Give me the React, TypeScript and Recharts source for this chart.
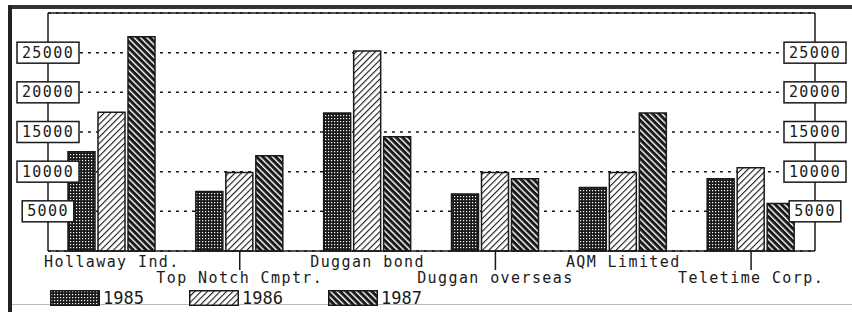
import { BarChart, Bar, XAxis, YAxis, CartesianGrid, ReferenceLine } from 'recharts'

const COMPANIES = ['Hollaway Ind.', 'Top Notch Cmptr.', 'Duggan bond', 'Duggan overseas', 'AQM Limited', 'Teletime Corp.']
const SALES_1985 = [12500, 7500, 17400, 7200, 8000, 9100]
const SALES_1986 = [17500, 9900, 25200, 9900, 9900, 10500]
const SALES_1987 = [27000, 12000, 14400, 9100, 17400, 6000]
const YEARS = ['1985', '1986', '1987']
const Y_TICKS = [5000, 10000, 15000, 20000, 25000]

const FONT = '"DejaVu Sans Mono", "Liberation Mono", monospace'
const INK = '#1a1a1a'
const FILLS = ['url(#dots)', 'url(#fwd)', 'url(#back)']

const PLOT_L = 48
const PLOT_R = 815

const data = COMPANIES.map((name, i) => ({
  name,
  y1985: SALES_1985[i],
  y1986: SALES_1986[i],
  y1987: SALES_1987[i],
}))

function Box({ x, y, label }: { x: number; y: number; label: string }) {
  const w = label.length * 10.4 + 10
  return (
    <g>
      <rect x={x - w / 2} y={y - 10.5} width={w} height={21} fill="white" stroke={INK} strokeWidth={1.5} />
      <text x={x} y={y + 5} textAnchor="middle" fontFamily={FONT} fontSize={15} letterSpacing={1.4} fill={INK}>
        {label}
      </text>
    </g>
  )
}

// boxed value labels centred on both axis lines (same scale left and right)
function YTick(props: any) {
  const { y, payload } = props
  const label = String(payload.value)
  return (
    <g>
      <Box x={PLOT_L} y={y} label={label} />
      <Box x={PLOT_R} y={y} label={label} />
    </g>
  )
}

// staggered category labels, second row gets a drop line
function XTick(props: any) {
  const { x, payload, index } = props
  const y = 251
  const low = index % 2 === 1
  return (
    <g>
      {low && <line x1={x} y1={y} x2={x} y2={y + 19} stroke={INK} strokeWidth={1.5} />}
      <text x={x} y={y + (low ? 32 : 16)} textAnchor="middle" fontFamily={FONT} fontSize={15} letterSpacing={1.4} fill={INK}>
        {payload.value}
      </text>
    </g>
  )
}

function Patterns() {
  return (
    <svg width={0} height={0} style={{ position: 'absolute' }}>
      <defs>
        <pattern id="dots" width={3} height={3} patternUnits="userSpaceOnUse">
          <rect width={3} height={3} fill={INK} />
          <rect x={1} y={1} width={1.2} height={1.2} fill="white" />
        </pattern>
        <pattern id="fwd" width={4.5} height={4.5} patternUnits="userSpaceOnUse" patternTransform="rotate(45)">
          <rect width={4.5} height={4.5} fill="white" />
          <rect width={1.1} height={4.5} fill={INK} />
        </pattern>
        <pattern id="back" width={4.5} height={4.5} patternUnits="userSpaceOnUse" patternTransform="rotate(-45)">
          <rect width={4.5} height={4.5} fill={INK} />
          <rect width={1.4} height={4.5} fill="white" />
        </pattern>
      </defs>
    </svg>
  )
}

export default function App() {
  return (
    <div style={{ position: 'absolute', left: 0, top: 0, width: 852, height: 312, background: 'white', overflow: 'hidden' }}>
      <Patterns />
      {/* scanned page frame */}
      <div style={{ position: 'absolute', left: 8, top: 5, width: 844, height: 4, background: '#333' }} />
      <div style={{ position: 'absolute', left: 8, top: 5, width: 4, height: 307, background: '#222' }} />
      <div style={{ position: 'absolute', left: 12, top: 304, width: 840, height: 1, background: '#bbb' }} />

      <div style={{ position: 'absolute', left: 0, top: 0 }}>
        <BarChart width={852} height={312} data={data}
          margin={{ top: 13, right: 852 - PLOT_R - 1, left: PLOT_L - 1, bottom: 60 }}
          barSize={27} barGap={3}>
          <CartesianGrid yAxisId="left" vertical={false} stroke={INK} strokeWidth={1.5} strokeDasharray="3 5" />
          <ReferenceLine yAxisId="left" y={30000} stroke={INK} strokeWidth={1.5} />
          <Bar yAxisId="left" dataKey="y1985" fill={FILLS[0]} stroke={INK} strokeWidth={1.5} isAnimationActive={false} />
          <Bar yAxisId="left" dataKey="y1986" fill={FILLS[1]} stroke={INK} strokeWidth={1.5} isAnimationActive={false} />
          <Bar yAxisId="left" dataKey="y1987" fill={FILLS[2]} stroke={INK} strokeWidth={1.5} isAnimationActive={false} />
          <XAxis dataKey="name" height={1} tickSize={0} tickMargin={0} tickLine={false}
            axisLine={{ stroke: INK, strokeWidth: 1.5 }} tick={<XTick />} interval={0} />
          <YAxis yAxisId="right" orientation="right" width={1} domain={[0, 30000]} ticks={Y_TICKS}
            tickLine={false} axisLine={{ stroke: INK, strokeWidth: 1.5 }} tick={false} />
          <YAxis yAxisId="left" width={1} domain={[0, 30000]} ticks={Y_TICKS} tickSize={0} tickMargin={0}
            tickLine={false} axisLine={{ stroke: INK, strokeWidth: 1.5 }} tick={<YTick />} />
        </BarChart>
      </div>

      {/* legend */}
      {YEARS.map((yr, i) => (
        <div key={yr} style={{ position: 'absolute', left: 50 + i * 139, top: 290, display: 'flex', alignItems: 'center' }}>
          <svg width={50} height={16}>
            <rect x={0.75} y={0.75} width={48.5} height={14.5} fill={FILLS[i]} stroke={INK} strokeWidth={1.5} />
          </svg>
          <span style={{ fontFamily: FONT, fontSize: 17, color: INK, marginLeft: 3, lineHeight: '16px' }}>{yr}</span>
        </div>
      ))}
    </div>
  )
}
